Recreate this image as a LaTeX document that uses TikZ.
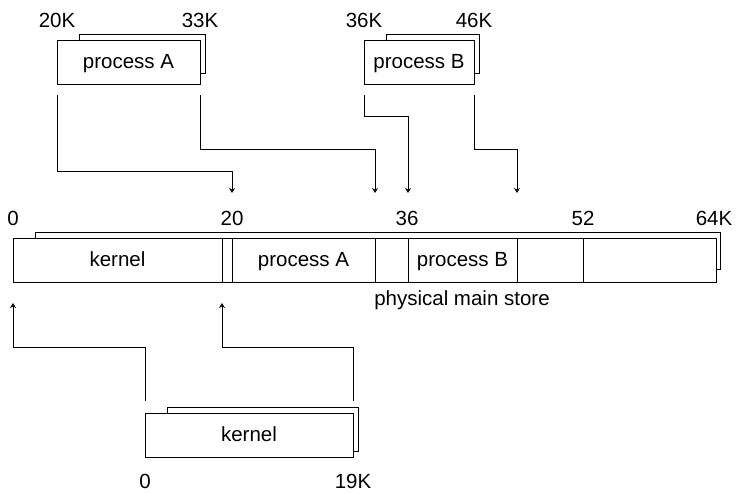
\documentclass[tikz,border=0pt]{standalone}
\usepackage{fontspec}
\setmainfont{Liberation Sans}
\usetikzlibrary{arrows.meta,
calc
}
\tikzset{>={Stealth[open,length=5pt,width=6pt]}}

\begin{document}
\begin{tikzpicture}[x=1pt, y=-1pt, line width=0.8pt,
    every node/.style={font=\fontsize{20.5}{24}\selectfont, inner sep=0pt, outer sep=0pt},
    box/.style={draw, anchor=north west, minimum height=44pt, text depth=0.2ex}]
    \useasboundingbox (0,0) rectangle (736,493);

    % processes as they are stored
    \node[box, minimum width=143pt] (procA) at (57,40) {process A};
    \node[box, minimum width=110pt] (procB) at (364,40) {process B};
    \node[box, minimum width=208pt] (kern) at (145,413) {kernel};
    \draw ($(procA.north west)+(22,0)$) -- ++(0,-6) -| ($(procA.north east)+(5,33)$) -- ++(-5,0);
    \draw ($(procB.north west)+(22,0)$) -- ++(0,-6) -| ($(procB.north east)+(5,33)$) -- ++(-5,0);
    \draw ($(kern.north west)+(22,0)$) -- ++(0,-6) -| ($(kern.north east)+(5,38)$) -- ++(-5,0);

    \node (a0) at (57,20) {20K};
    \node (a1) at (200,20) {33K};
    \node (b0) at (364,20) {36K};
    \node (b1) at (474,20) {46K};
    \node (k0) at (145,481) {0};
    \node (k1) at (353,481) {19K};

    % physical main store
    \node[box, minimum width=209pt] (storeK) at (13,238) {kernel};
    \node[box, minimum width=10pt] (gap) at (222,238) {};
    \node[box, minimum width=143pt] (storeA) at (232,238) {process A};
    \node[box, minimum width=33pt] (free1) at (375,238) {};
    \node[box, minimum width=109pt] (storeB) at (408,238) {process B};
    \node[box, minimum width=66pt] (free2) at (517,238) {};
    \node[box, minimum width=133pt] (free3) at (583,238) {};
    \draw ($(storeK.north west)+(22,0)$) -- ++(0,-6) -| ($(free3.north east)+(4,31)$) -- ++(-4,0);

    \node (m0) at (13,218) {0};
    \node (m20) at (232,218) {20};
    \node (m36) at (407,218) {36};
    \node (m52) at (583,218) {52};
    \node (m64) at (714,218) {64K};
    \node (store) at (462,300) {physical main store};

    % mapping into the store
    \draw[->] ($(procA.south west)+(0,11)$) |- ($(gap.north east)+(0,-67)$) -- ++(0,22);
    \draw[->] ($(procA.south east)+(0,11)$) |- ($(free1.north west)+(0,-89)$) -- ++(0,44);
    \draw[->] ($(procB.south west)+(0,11)$) |- ($(storeB.north west)+(0,-122)$) -- ++(0,77);
    \draw[->] ($(procB.south east)+(0,11)$) |- ($(free2.north west)+(0,-89)$) -- ++(0,44);
    \draw[->] ($(kern.north west)+(0,-12)$) |- ($(storeK.south west)+(0,65)$) -- ++(0,-44);
    \draw[->] ($(kern.north east)+(0,-12)$) |- ($(gap.south west)+(0,65)$) -- ++(0,-44);
\end{tikzpicture}
\end{document}
